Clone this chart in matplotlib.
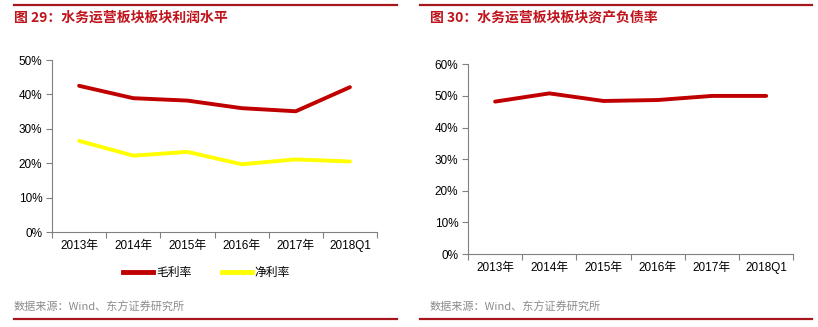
import numpy as np
import matplotlib.pyplot as plt
from matplotlib.lines import Line2D

plt.rcParams['font.family'] = ['Liberation Sans', 'Noto Sans CJK SC', 'DejaVu Sans']

# data
years = ['2013年', '2014年', '2015年', '2016年', '2017年', '2018Q1']
gross_margin = [42.5, 38.9, 38.2, 36.0, 35.1, 42.1]
net_margin = [26.5, 22.2, 23.3, 19.7, 21.1, 20.5]
debt_ratio = [48.2, 50.8, 48.4, 48.7, 50.0, 50.0]

red = '#C00000'
yellow = '#FFFF00'
axis_gray = '#808080'
title_red = '#C0141C'
cjk = ['Noto Sans CJK SC', 'DejaVu Sans']

fig = plt.figure(figsize=(8.18, 3.27), dpi=100)

def style_axes(ax, ymax):
    x = np.arange(len(years))
    ax.set_xlim(-0.5, len(years) - 0.5)
    ax.set_ylim(0, ymax)
    ax.set_yticks(np.arange(0, ymax + 1, 10))
    ax.set_yticklabels([f'{v}%' for v in range(0, ymax + 1, 10)], fontsize=8.5)
    ax.set_xticks(np.arange(-0.5, len(years), 1))
    ax.set_xticklabels([])
    ax.set_xticks(x, minor=True)
    ax.set_xticklabels(years, minor=True, fontsize=8.5)
    ax.tick_params(axis='x', which='minor', length=0, pad=6)
    ax.tick_params(axis='x', which='major', length=4, color=axis_gray, direction='out')
    ax.tick_params(axis='y', length=4, color=axis_gray, direction='out', pad=3)
    for s in ['top', 'right']:
        ax.spines[s].set_visible(False)
    for s in ['left', 'bottom']:
        ax.spines[s].set_color(axis_gray)
        ax.spines[s].set_linewidth(0.8)
    return x

# left chart
ax1 = fig.add_axes([0.0636, 0.2905, 0.3973, 0.526])
x = style_axes(ax1, 50)
ax1.plot(x, gross_margin, color=red, lw=2.8, solid_capstyle='round')
ax1.plot(x, net_margin, color=yellow, lw=2.8, solid_capstyle='round')
ax1.legend([Line2D([], [], color=red, lw=3.5), Line2D([], [], color=yellow, lw=3.5)],
           ['毛利率', '净利率'], ncol=2, frameon=False, prop={'family': cjk, 'size': 8.5},
           loc='center', bbox_to_anchor=(0.475, -0.235), handlelength=2.6,
           handletextpad=0.2, columnspacing=2.6)

# right chart
ax2 = fig.add_axes([0.5721, 0.2232, 0.3977, 0.5802])
x = style_axes(ax2, 60)
ax2.plot(x, debt_ratio, color=red, lw=2.8, solid_capstyle='round')

# titles, source lines, decorative rules
fig.text(14 / 818, 1 - 18 / 327, '图 29：水务运营板块板块利润水平', fontsize=10,
         fontweight='bold', color=title_red, va='center', family=cjk)
fig.text(430 / 818, 1 - 18 / 327, '图 30：水务运营板块板块资产负债率', fontsize=10,
         fontweight='bold', color=title_red, va='center', family=cjk)
fig.text(14 / 818, 1 - 307 / 327, '数据来源：Wind、东方证券研究所', fontsize=8,
         color='#8C8C8C', va='center', family=cjk)
fig.text(430 / 818, 1 - 307 / 327, '数据来源：Wind、东方证券研究所', fontsize=8,
         color='#8C8C8C', va='center', family=cjk)
for x0, x1 in [(14, 397), (420, 812)]:
    for yy in (5, 319):
        fig.add_artist(Line2D([x0 / 818, x1 / 818], [1 - yy / 327] * 2,
                              color='#A5161D', lw=1.6))

fig.savefig('out.png', dpi=100)
